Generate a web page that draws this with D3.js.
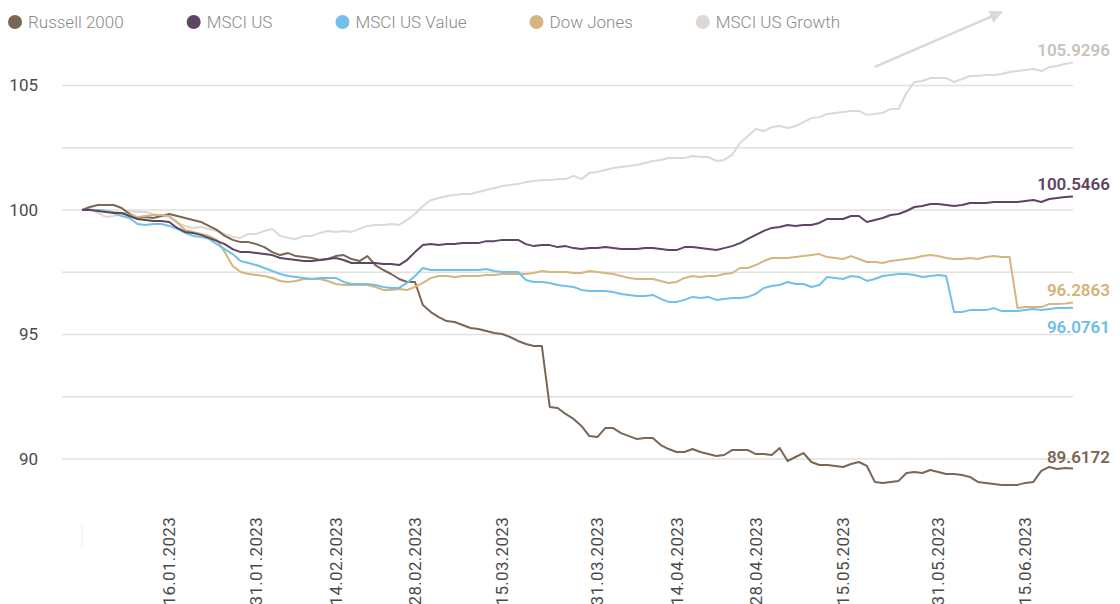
<!DOCTYPE html>
<html>
<head>
<meta charset="utf-8">
<script src="https://cdn.jsdelivr.net/npm/d3@7"></script>
<style>
    body { margin: 0; background: #fff; }
    svg { display: block; font-family: Roboto, "Open Sans", sans-serif; }
</style>
</head>
<body>
<svg id="chart" width="1120" height="604"></svg>
<script>
// legend order
const seriesNames = ["Russell 2000", "MSCI US", "MSCI US Value", "Dow Jones", "MSCI US Growth"];
const seriesColors = ["#7a6654", "#5d4563", "#72bfe9", "#d6b57e", "#ddd8d3"];
const labelColors = ["#7a6654", "#5d4563", "#6dbde8", "#d3b27a", "#c9c2bb"];

// one value per business day, 30.12.2022 .. 23.06.2023
const russell2000 = [
    100.00, 100.12, 100.20, 100.20, 100.20, 100.08, 99.84, 99.68, 99.72, 99.68,
    99.76, 99.84, 99.76, 99.68, 99.60, 99.52, 99.36, 99.20, 98.96, 98.80,
    98.71, 98.71, 98.63, 98.51, 98.31, 98.19, 98.27, 98.15, 98.11, 98.07,
    97.99, 98.03, 98.15, 98.19, 98.03, 97.95, 98.15, 97.79, 97.59, 97.43,
    97.23, 97.11, 97.11, 96.18, 95.90, 95.70, 95.54, 95.50, 95.38, 95.26,
    95.22, 95.14, 95.06, 95.02, 94.90, 94.74, 94.62, 94.54, 94.54, 92.09,
    92.05, 91.81, 91.61, 91.33, 90.92, 90.88, 91.24, 91.24, 91.04, 90.92,
    90.80, 90.84, 90.84, 90.56, 90.40, 90.28, 90.28, 90.40, 90.28, 90.20,
    90.12, 90.16, 90.36, 90.36, 90.36, 90.20, 90.20, 90.16, 90.44, 89.92,
    90.08, 90.24, 89.88, 89.76, 89.76, 89.72, 89.68, 89.80, 89.88, 89.72,
    89.08, 89.04, 89.08, 89.12, 89.44, 89.48, 89.44, 89.56, 89.48, 89.40,
    89.40, 89.36, 89.28, 89.08, 89.04, 89.00, 88.96, 88.96, 88.96, 89.04,
    89.08, 89.52, 89.68, 89.60, 89.64, 89.6172
];
const msciUs = [
    100.00, 100.00, 99.96, 99.92, 99.88, 99.88, 99.76, 99.64, 99.60, 99.56,
    99.56, 99.52, 99.28, 99.12, 99.08, 99.00, 98.88, 98.76, 98.63, 98.43,
    98.31, 98.31, 98.27, 98.23, 98.19, 98.07, 98.03, 97.99, 97.95, 97.95,
    97.99, 98.03, 98.07, 97.99, 97.87, 97.87, 97.87, 97.87, 97.83, 97.83,
    97.79, 97.99, 98.31, 98.59, 98.63, 98.59, 98.63, 98.63, 98.67, 98.67,
    98.67, 98.75, 98.75, 98.80, 98.80, 98.80, 98.63, 98.55, 98.59, 98.59,
    98.51, 98.55, 98.47, 98.43, 98.47, 98.47, 98.51, 98.47, 98.43, 98.43,
    98.43, 98.47, 98.47, 98.43, 98.39, 98.39, 98.51, 98.51, 98.47, 98.43,
    98.39, 98.47, 98.55, 98.67, 98.84, 99.00, 99.16, 99.28, 99.32, 99.40,
    99.36, 99.40, 99.40, 99.48, 99.64, 99.64, 99.64, 99.76, 99.76, 99.52,
    99.60, 99.68, 99.80, 99.84, 99.96, 100.12, 100.16, 100.24, 100.24, 100.20,
    100.16, 100.20, 100.28, 100.28, 100.28, 100.32, 100.32, 100.32, 100.32, 100.36,
    100.40, 100.32, 100.44, 100.48, 100.52, 100.5466
];
const msciUsValue = [
    100.00, 100.00, 100.00, 99.96, 99.88, 99.76, 99.68, 99.44, 99.40, 99.44,
    99.44, 99.36, 99.24, 99.08, 98.96, 98.92, 98.84, 98.63, 98.43, 98.23,
    97.95, 97.87, 97.79, 97.67, 97.55, 97.43, 97.35, 97.31, 97.27, 97.23,
    97.27, 97.27, 97.27, 97.11, 97.03, 97.03, 97.03, 96.99, 96.91, 96.87,
    96.87, 97.07, 97.35, 97.67, 97.59, 97.59, 97.59, 97.59, 97.59, 97.59,
    97.59, 97.63, 97.55, 97.51, 97.51, 97.51, 97.19, 97.11, 97.11, 97.07,
    96.99, 96.95, 96.91, 96.79, 96.75, 96.75, 96.75, 96.71, 96.63, 96.59,
    96.55, 96.55, 96.59, 96.43, 96.31, 96.31, 96.39, 96.51, 96.47, 96.51,
    96.39, 96.43, 96.47, 96.47, 96.51, 96.63, 96.87, 96.95, 96.99, 97.11,
    97.03, 97.03, 96.91, 96.99, 97.31, 97.27, 97.23, 97.35, 97.31, 97.15,
    97.23, 97.35, 97.39, 97.43, 97.43, 97.39, 97.31, 97.35, 97.39, 97.35,
    95.90, 95.90, 95.98, 95.98, 95.98, 96.06, 95.94, 95.94, 95.94, 95.98,
    96.02, 95.98, 96.02, 96.06, 96.06, 96.0761
];
const dowJones = [
    100.00, 100.00, 100.00, 99.96, 99.92, 99.88, 99.80, 99.72, 99.76, 99.80,
    99.80, 99.76, 99.52, 99.20, 99.12, 99.04, 98.96, 98.80, 98.31, 97.75,
    97.51, 97.43, 97.39, 97.35, 97.27, 97.15, 97.11, 97.15, 97.23, 97.23,
    97.23, 97.15, 97.03, 96.99, 96.99, 96.99, 96.99, 96.91, 96.79, 96.79,
    96.83, 96.79, 96.91, 97.07, 97.27, 97.35, 97.35, 97.31, 97.35, 97.35,
    97.35, 97.39, 97.39, 97.43, 97.43, 97.43, 97.43, 97.47, 97.55, 97.51,
    97.51, 97.51, 97.47, 97.47, 97.55, 97.51, 97.47, 97.43, 97.35, 97.27,
    97.23, 97.23, 97.23, 97.15, 97.07, 97.11, 97.27, 97.35, 97.31, 97.35,
    97.35, 97.43, 97.47, 97.67, 97.67, 97.79, 97.95, 98.07, 98.07, 98.07,
    98.11, 98.15, 98.19, 98.23, 98.11, 98.07, 98.03, 98.15, 98.03, 97.91,
    97.91, 97.87, 97.95, 97.99, 98.03, 98.07, 98.15, 98.19, 98.15, 98.07,
    98.03, 98.03, 98.07, 98.03, 98.11, 98.15, 98.11, 98.11, 96.06, 96.10,
    96.10, 96.10, 96.22, 96.22, 96.24, 96.2863
];
const msciUsGrowth = [
    100.00, 100.08, 99.88, 99.72, 99.76, 99.84, 99.96, 99.92, 99.92, 99.84,
    99.76, 99.72, 99.48, 99.36, 99.28, 99.32, 99.24, 99.16, 99.04, 98.92,
    98.88, 99.04, 99.04, 99.16, 99.24, 98.96, 98.88, 98.84, 98.96, 98.96,
    99.08, 99.16, 99.12, 99.16, 99.12, 99.24, 99.36, 99.40, 99.40, 99.44,
    99.40, 99.60, 99.84, 100.16, 100.40, 100.48, 100.56, 100.60, 100.64, 100.64,
    100.72, 100.80, 100.88, 100.96, 101.00, 101.04, 101.12, 101.16, 101.20, 101.20,
    101.24, 101.24, 101.37, 101.24, 101.49, 101.53, 101.61, 101.69, 101.73, 101.77,
    101.81, 101.89, 101.97, 102.01, 102.09, 102.09, 102.09, 102.17, 102.13, 102.13,
    101.97, 102.01, 102.21, 102.69, 102.97, 103.25, 103.17, 103.33, 103.37, 103.29,
    103.37, 103.53, 103.69, 103.73, 103.86, 103.90, 103.94, 103.98, 103.98, 103.82,
    103.86, 103.90, 104.06, 104.06, 104.70, 105.14, 105.18, 105.30, 105.30, 105.30,
    105.14, 105.26, 105.38, 105.38, 105.42, 105.42, 105.46, 105.54, 105.58, 105.62,
    105.66, 105.58, 105.74, 105.78, 105.86, 105.9296
];
const seriesValues = [russell2000, msciUs, msciUsValue, dowJones, msciUsGrowth];

const tickLabels = ["16.01.2023", "31.01.2023", "14.02.2023", "28.02.2023", "15.03.2023",
    "31.03.2023", "14.04.2023", "28.04.2023", "15.05.2023", "31.05.2023", "15.06.2023"];
const yGrid = [90, 92.5, 95, 97.5, 100, 102.5, 105];
const yLabels = [90, 95, 100, 105];

// trend arrow, in data units
const arrowFrom = { date: "19.05.2023", value: 105.75 };
const arrowTo = { date: "12.06.2023", value: 107.95 };

// business days of the period
const fmt = d3.timeFormat("%d.%m.%Y");
const dates = d3.timeDay.range(new Date(2022, 11, 30), new Date(2023, 5, 24))
    .filter(d => d.getDay() !== 0 && d.getDay() !== 6)
    .map(fmt);

const svg = d3.select("#chart");

const x = d3.scalePoint()
    .domain(dates)
    .range([82, 1073]);

const y = d3.scaleLinear()
    .domain([87.5, 107.5])
    .range([521.25, 23.25]);

// gridlines
svg.append("g")
    .selectAll("line")
    .data(yGrid)
    .join("line")
    .attr("x1", 62)
    .attr("x2", 1073)
    .attr("y1", d => y(d))
    .attr("y2", d => y(d))
    .attr("stroke", "#e4e0db")
    .attr("stroke-width", 1.5);

// y labels
svg.append("g")
    .selectAll("text")
    .data(yLabels)
    .join("text")
    .attr("x", 38)
    .attr("y", d => y(d))
    .attr("dy", "0.35em")
    .attr("text-anchor", "end")
    .attr("font-size", 17)
    .attr("fill", "#4a4a4a")
    .text(d => d);

// x labels, rotated
svg.append("line")
    .attr("x1", x(dates[0]))
    .attr("x2", x(dates[0]))
    .attr("y1", 525)
    .attr("y2", 548)
    .attr("stroke", "#eeeeee");

svg.append("g")
    .selectAll("text")
    .data(tickLabels)
    .join("text")
    .attr("transform", d => `translate(${x(d)},517) rotate(-90)`)
    .attr("dy", "0.35em")
    .attr("text-anchor", "end")
    .attr("font-size", 17)
    .attr("letter-spacing", 0.3)
    .attr("fill", "#4a4a4a")
    .text(d => d);

// trend arrow
svg.append("defs").append("marker")
    .attr("id", "arrowHead")
    .attr("markerUnits", "userSpaceOnUse")
    .attr("viewBox", "0 0 10 10")
    .attr("refX", 9)
    .attr("refY", 5)
    .attr("markerWidth", 15)
    .attr("markerHeight", 13)
    .attr("orient", "auto")
    .append("path")
    .attr("d", "M0,0 L10,5 L0,10 z")
    .attr("fill", "#ddd8d3");

svg.append("line")
    .attr("x1", x(arrowFrom.date))
    .attr("y1", y(arrowFrom.value))
    .attr("x2", x(arrowTo.date))
    .attr("y2", y(arrowTo.value))
    .attr("stroke", "#ddd8d3")
    .attr("stroke-width", 2.5)
    .attr("marker-end", "url(#arrowHead)");

// lines, growth at the back
const line = d3.line()
    .x((d, i) => x(dates[i]))
    .y(d => y(d));

const drawOrder = [4, 0, 3, 2, 1];
svg.append("g")
    .selectAll("path")
    .data(drawOrder)
    .join("path")
    .attr("d", k => line(seriesValues[k]))
    .attr("fill", "none")
    .attr("stroke", k => seriesColors[k])
    .attr("stroke-width", 2)
    .attr("stroke-linejoin", "round");

// end value labels: above the line end, below it if that collides
const ends = seriesValues.map((vals, k) => ({ k: k, v: vals[vals.length - 1] }))
    .sort((a, b) => b.v - a.v);
let lastY = -Infinity;
for (let e of ends) {
    let ly = y(e.v) - 6;
    if (ly - lastY < 20) {
        ly = y(e.v) + 25;
    }
    e.ly = ly;
    lastY = ly;
}
svg.append("g")
    .selectAll("text")
    .data(ends)
    .join("text")
    .attr("x", 1110)
    .attr("y", d => d.ly)
    .attr("text-anchor", "end")
    .attr("font-size", 17)
    .attr("font-weight", 600)
    .attr("fill", d => labelColors[d.k])
    .text(d => d3.format(".4f")(d.v));

// legend
let legendX = 15;
const legend = svg.append("g");
seriesNames.forEach((name, k) => {
    legend.append("circle")
        .attr("cx", legendX)
        .attr("cy", 22)
        .attr("r", 7)
        .attr("fill", seriesColors[k]);
    const t = legend.append("text")
        .attr("x", legendX + 13)
        .attr("y", 22)
        .attr("dy", "0.35em")
        .attr("font-size", 17)
        .attr("font-weight", 300)
        .attr("fill", "#8a8a8a")
        .text(name);
    legendX = legendX + 13 + t.node().getComputedTextLength() + 70;
});
</script>
</body>
</html>
